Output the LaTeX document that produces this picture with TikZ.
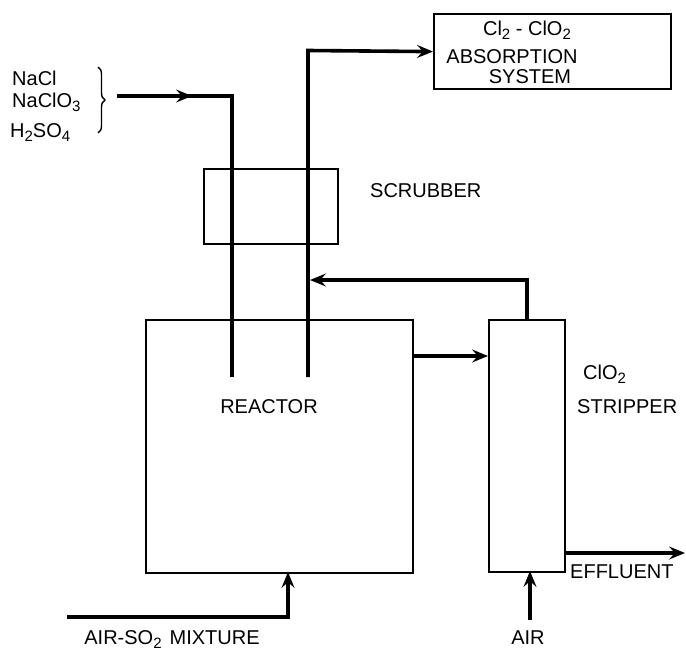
\documentclass[tikz,border=0pt]{standalone}
\usepackage{fontspec}
\setmainfont{Liberation Sans}
\usetikzlibrary{arrows.meta,decorations.pathreplacing}
\newcommand{\lsub}[1]{\raisebox{-0.4ex}{\fontsize{15}{15}\selectfont #1}}
\begin{document}
\begin{tikzpicture}[x=1pt,y=-1pt,
  box/.style={draw, line width=2.2pt, inner sep=0pt, anchor=north west},
  pipe/.style={line width=3.6pt},
  arr/.style={-{Stealth[length=16pt,width=13pt,inset=6pt]}},
  lbl/.style={font=\fontsize{20}{20}\selectfont, inner sep=0pt, anchor=base west},
  clbl/.style={lbl, anchor=base}]
\useasboundingbox[fill=white] (0,0) rectangle (686,653);

% units
\node[box, minimum width=237pt, minimum height=75pt] (absorb) at (433,13) {};
\node[box, minimum width=134pt, minimum height=75pt] (scrubber) at (203,168) {};
\node[box, minimum width=267pt, minimum height=253pt] (reactor) at (145,319) {};
\node[box, minimum width=76pt, minimum height=252pt] (stripper) at (488,319) {};

% coordinates
\coordinate (inl) at (117,96);
\coordinate (inmid) at (192,96);
\coordinate (inov) at (182,96);
\coordinate (lcorner) at (232,96);
\coordinate (lend) at (232,377);
\coordinate (rend) at (308,377);
\coordinate (rcorner) at (308,50.5);
\coordinate (stop) at (527,319);
\coordinate (rc) at (527,280);
\coordinate (rj) at (310,280);
\coordinate (rxout) at (412,356);
\coordinate (sxin) at (488,356);
\coordinate (as) at (67,617);
\coordinate (ac) at (288,617);
\coordinate (ain) at (288,572);
\coordinate (airs) at (530,620);
\coordinate (airin) at (530,571);
\coordinate (eout) at (564,553);
\coordinate (eend) at (685,553);

% pipes
\draw[pipe] (inov) -- (lcorner) -- (lend);
\draw[pipe, arr] (inl) -- (inmid);
\draw[pipe, arr] (rend) -- (rcorner) -- (absorb.west);
\draw[pipe, arr] (stop) -- (rc) -- (rj);
\draw[pipe, arr] (rxout) -- (sxin);
\draw[pipe, arr] (as) -- (ac) -- (ain);
\draw[pipe, arr] (airs) -- (airin);
\draw[pipe, arr] (eout) -- (eend);

% brace
\draw[line width=1.4pt, decorate, decoration={brace, amplitude=7pt}] (98,67) -- (98,133);

% labels
\node[lbl] (t1) at (12,85) {NaCl};
\node[lbl] (t2) at (12,107) {NaClO\lsub{3}};
\node[lbl] (t3) at (10,137) {H\lsub{2}SO\lsub{4}};
\node[clbl] (a1) at (527,35) {Cl\lsub{2} - ClO\lsub{2}};
\node[clbl] (a2) at (512,63) {ABSORPTION};
\node[clbl] (a3) at (530,83) {SYSTEM};
\node[lbl] (sl) at (370,197) {SCRUBBER};
\node[clbl] (rl) at (269,413) {REACTOR};
\node[lbl] (c1) at (583,379) {ClO\lsub{2}};
\node[lbl] (c2) at (577,413) {STRIPPER};
\node[lbl] (el) at (570,578) {EFFLUENT};
\node[clbl] (al) at (528,644) {AIR};
\node[clbl] (ml) at (172,644) {AIR-SO\lsub{2}\hspace{8pt}MIXTURE};
\end{tikzpicture}
\end{document}
